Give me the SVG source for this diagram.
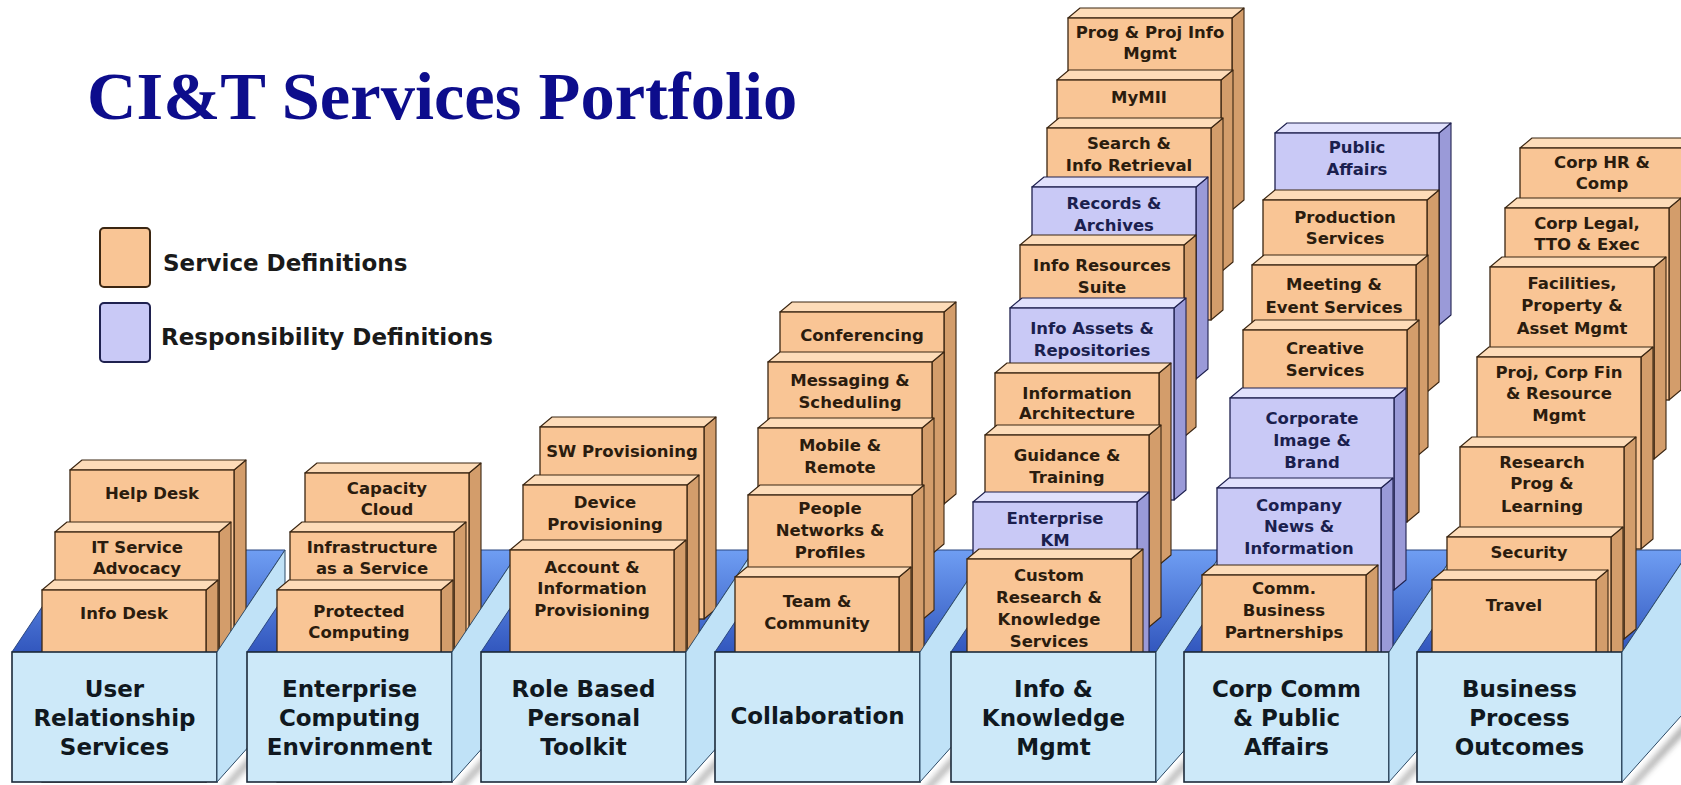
<svg xmlns="http://www.w3.org/2000/svg" xmlns:xlink="http://www.w3.org/1999/xlink" width="1681" height="785" viewBox="0 0 1681 785">
<defs>
<style>
.title{font-family:"Liberation Serif","Times New Roman",serif;font-weight:bold;font-size:68.5px;fill:#0d0d8c}
.leg{font-family:"DejaVu Sans",sans-serif;font-weight:bold;font-size:23px;fill:#1a1a1a}
.ct{font-family:"DejaVu Sans",sans-serif;font-weight:bold;font-size:16.5px;text-anchor:middle;fill:#2b1c0e}
.pt{font-family:"DejaVu Sans",sans-serif;font-weight:bold;font-size:16.5px;text-anchor:middle;fill:#1b1f4e}
.bt{font-family:"DejaVu Sans",sans-serif;font-weight:bold;font-size:23px;text-anchor:middle;fill:#101820}
.oF{fill:#f9c595;stroke:#3b2612;stroke-width:1.3}
.oT{fill:#fddcb9;stroke:#3b2612;stroke-width:1.1;stroke-linejoin:round}
.oR{fill:#d39d6b;stroke:#3b2612;stroke-width:1.1;stroke-linejoin:round}
.pF{fill:#c9c9f6;stroke:#1f214f;stroke-width:1.3}
.pT{fill:#e1e1fc;stroke:#1f214f;stroke-width:1.1;stroke-linejoin:round}
.pR{fill:#9a9ad8;stroke:#1f214f;stroke-width:1.1;stroke-linejoin:round}
.front{fill:#cde9f9;stroke:#1c2a3a;stroke-width:1.6}
.wall{fill:#c0e2f7;stroke:#2c4a66;stroke-width:1}
.inner{fill:url(#gInner);stroke:#2a4680;stroke-width:1}
.shadow{fill:#555;opacity:0.55;filter:url(#blur)}
</style>
<linearGradient id="gInner" x1="0" y1="0" x2="0" y2="1">
<stop offset="0" stop-color="#6f9ef3"/>
<stop offset="1" stop-color="#3257be"/>
</linearGradient>
<filter id="blur" x="-20%" y="-20%" width="140%" height="140%"><feGaussianBlur stdDeviation="3"/></filter>
<g id="oc"><polygon class="oR" points="164,0 176,-10 176,182 164,192"/><polygon class="oT" points="0,0 12,-10 176,-10 164,0"/><rect class="oF" width="164" height="192"/></g>
<g id="pc"><polygon class="pR" points="164,0 176,-10 176,182 164,192"/><polygon class="pT" points="0,0 12,-10 176,-10 164,0"/><rect class="pF" width="164" height="192"/></g>
</defs>
<rect width="1681" height="785" fill="#ffffff"/>

<g id="title"><text class="title" x="87" y="119">CI&amp;T Services Portfolio</text></g>

<g id="legend">
<g id="legend-service"><rect x="100" y="228" width="50" height="59" rx="4" fill="#f9c595" stroke="#3b2612" stroke-width="2"/><text class="leg" x="163" y="271">Service Definitions</text></g>
<g id="legend-responsibility"><rect x="100" y="303" width="50" height="59" rx="4" fill="#c9c9f6" stroke="#1f214f" stroke-width="2"/><text class="leg" x="161" y="345">Responsibility Definitions</text></g>
</g>

<!-- Column 1 -->
<g id="col-user-relationship">
<polygon class="inner" points="12,652 80,550 285,550 217,652"/>
<g id="n-help-desk"><use xlink:href="#oc" x="70" y="470"/><text class="ct" x="152" y="499">Help Desk</text></g>
<g id="n-it-service-advocacy"><use xlink:href="#oc" x="55" y="532"/><text class="ct" x="137" y="553">IT Service</text><text class="ct" x="137" y="574">Advocacy</text></g>
<g id="n-info-desk"><use xlink:href="#oc" x="42" y="590"/><text class="ct" x="124" y="619">Info Desk</text></g>
<g id="n-user-relationship-services"><rect class="front" x="12" y="652" width="205" height="130"/><text class="bt" x="114.5" y="697">User</text><text class="bt" x="114.5" y="726">Relationship</text><text class="bt" x="114.5" y="755">Services</text></g>
<polygon class="shadow" points="220,790 288,714 288,724 224,792"/>
<polygon class="wall" points="217,652 285,550 285,706 217,782"/>
</g>

<!-- Column 2 -->
<g id="col-enterprise-computing">
<polygon class="inner" points="247,652 315,550 520,550 452,652"/>
<g id="n-capacity-cloud"><use xlink:href="#oc" x="305" y="473"/><text class="ct" x="387" y="494">Capacity</text><text class="ct" x="387" y="515">Cloud</text></g>
<g id="n-infrastructure-service"><use xlink:href="#oc" x="290" y="532"/><text class="ct" x="372" y="553">Infrastructure</text><text class="ct" x="372" y="574">as a Service</text></g>
<g id="n-protected-computing"><use xlink:href="#oc" x="277" y="590"/><text class="ct" x="359" y="617">Protected</text><text class="ct" x="359" y="638">Computing</text></g>
<g id="n-enterprise-computing-environment"><rect class="front" x="247" y="652" width="205" height="130"/><text class="bt" x="349.5" y="697">Enterprise</text><text class="bt" x="349.5" y="726">Computing</text><text class="bt" x="349.5" y="755">Environment</text></g>
<polygon class="shadow" points="455,790 523,714 523,724 459,792"/>
<polygon class="wall" points="452,652 520,550 520,706 452,782"/>
</g>

<!-- Column 3 -->
<g id="col-role-based">
<polygon class="inner" points="481,652 549,550 754,550 686,652"/>
<g id="n-sw-provisioning"><use xlink:href="#oc" x="540" y="427"/><text class="ct" x="622" y="457">SW Provisioning</text></g>
<g id="n-device-provisioning"><use xlink:href="#oc" x="523" y="485"/><text class="ct" x="605" y="508">Device</text><text class="ct" x="605" y="530">Provisioning</text></g>
<g id="n-account-information-provisioning"><use xlink:href="#oc" x="510" y="550"/><text class="ct" x="592" y="573">Account &amp;</text><text class="ct" x="592" y="594">Information</text><text class="ct" x="592" y="616">Provisioning</text></g>
<g id="n-role-based-personal-toolkit"><rect class="front" x="481" y="652" width="205" height="130"/><text class="bt" x="583.5" y="697">Role Based</text><text class="bt" x="583.5" y="726">Personal</text><text class="bt" x="583.5" y="755">Toolkit</text></g>
<polygon class="shadow" points="689,790 757,714 757,724 693,792"/>
<polygon class="wall" points="686,652 754,550 754,706 686,782"/>
</g>

<!-- Column 4 -->
<g id="col-collaboration">
<polygon class="inner" points="715,652 783,550 988,550 920,652"/>
<g id="n-conferencing"><use xlink:href="#oc" x="780" y="312"/><text class="ct" x="862" y="341">Conferencing</text></g>
<g id="n-messaging-scheduling"><use xlink:href="#oc" x="768" y="362"/><text class="ct" x="850" y="386">Messaging &amp;</text><text class="ct" x="850" y="408">Scheduling</text></g>
<g id="n-mobile-remote"><use xlink:href="#oc" x="758" y="428"/><text class="ct" x="840" y="451">Mobile &amp;</text><text class="ct" x="840" y="473">Remote</text></g>
<g id="n-people-networks-profiles"><use xlink:href="#oc" x="748" y="495"/><text class="ct" x="830" y="514">People</text><text class="ct" x="830" y="536">Networks &amp;</text><text class="ct" x="830" y="558">Profiles</text></g>
<g id="n-team-community"><use xlink:href="#oc" x="735" y="577"/><text class="ct" x="817" y="607">Team &amp;</text><text class="ct" x="817" y="629">Community</text></g>
<g id="n-collaboration"><rect class="front" x="715" y="652" width="205" height="130"/><text class="bt" x="817.5" y="724">Collaboration</text></g>
<polygon class="shadow" points="923,790 991,714 991,724 927,792"/>
<polygon class="wall" points="920,652 988,550 988,706 920,782"/>
</g>

<!-- Column 5 -->
<g id="col-info-knowledge">
<polygon class="inner" points="951,652 1019,550 1224,550 1156,652"/>
<g id="n-prog-proj-info-mgmt"><use xlink:href="#oc" x="1068" y="18"/><text class="ct" x="1150" y="38">Prog &amp; Proj Info</text><text class="ct" x="1150" y="59">Mgmt</text></g>
<g id="n-mymii"><use xlink:href="#oc" x="1057" y="80"/><text class="ct" x="1139" y="103">MyMII</text></g>
<g id="n-search-info-retrieval"><use xlink:href="#oc" x="1047" y="128"/><text class="ct" x="1129" y="149">Search &amp;</text><text class="ct" x="1129" y="171">Info Retrieval</text></g>
<g id="n-records-archives"><use xlink:href="#pc" x="1032" y="187"/><text class="pt" x="1114" y="209">Records &amp;</text><text class="pt" x="1114" y="231">Archives</text></g>
<g id="n-info-resources-suite"><use xlink:href="#oc" x="1020" y="245"/><text class="ct" x="1102" y="271">Info Resources</text><text class="ct" x="1102" y="293">Suite</text></g>
<g id="n-info-assets-repositories"><use xlink:href="#pc" x="1010" y="308"/><text class="pt" x="1092" y="334">Info Assets &amp;</text><text class="pt" x="1092" y="356">Repositories</text></g>
<g id="n-information-architecture"><use xlink:href="#oc" x="995" y="373"/><text class="ct" x="1077" y="399">Information</text><text class="ct" x="1077" y="419">Architecture</text></g>
<g id="n-guidance-training"><use xlink:href="#oc" x="985" y="435"/><text class="ct" x="1067" y="461">Guidance &amp;</text><text class="ct" x="1067" y="483">Training</text></g>
<g id="n-enterprise-km"><use xlink:href="#pc" x="973" y="502"/><text class="pt" x="1055" y="524">Enterprise</text><text class="pt" x="1055" y="546">KM</text></g>
<g id="n-custom-research"><use xlink:href="#oc" x="967" y="559"/><text class="ct" x="1049" y="581">Custom</text><text class="ct" x="1049" y="603">Research &amp;</text><text class="ct" x="1049" y="625">Knowledge</text><text class="ct" x="1049" y="647">Services</text></g>
<g id="n-info-knowledge-mgmt"><rect class="front" x="951" y="652" width="205" height="130"/><text class="bt" x="1053.5" y="697">Info &amp;</text><text class="bt" x="1053.5" y="726">Knowledge</text><text class="bt" x="1053.5" y="755">Mgmt</text></g>
<polygon class="shadow" points="1159,790 1227,714 1227,724 1163,792"/>
<polygon class="wall" points="1156,652 1224,550 1224,706 1156,782"/>
</g>

<!-- Column 6 -->
<g id="col-corp-comm">
<polygon class="inner" points="1184,652 1252,550 1457,550 1389,652"/>
<g id="n-public-affairs"><use xlink:href="#pc" x="1275" y="133"/><text class="pt" x="1357" y="153">Public</text><text class="pt" x="1357" y="175">Affairs</text></g>
<g id="n-production-services"><use xlink:href="#oc" x="1263" y="200"/><text class="ct" x="1345" y="223">Production</text><text class="ct" x="1345" y="244">Services</text></g>
<g id="n-meeting-event-services"><use xlink:href="#oc" x="1252" y="265"/><text class="ct" x="1334" y="290">Meeting &amp;</text><text class="ct" x="1334" y="313">Event Services</text></g>
<g id="n-creative-services"><use xlink:href="#oc" x="1243" y="330"/><text class="ct" x="1325" y="354">Creative</text><text class="ct" x="1325" y="376">Services</text></g>
<g id="n-corporate-image-brand"><use xlink:href="#pc" x="1230" y="398"/><text class="pt" x="1312" y="424">Corporate</text><text class="pt" x="1312" y="446">Image &amp;</text><text class="pt" x="1312" y="468">Brand</text></g>
<g id="n-company-news-information"><use xlink:href="#pc" x="1217" y="488"/><text class="pt" x="1299" y="511">Company</text><text class="pt" x="1299" y="532">News &amp;</text><text class="pt" x="1299" y="554">Information</text></g>
<g id="n-comm-business-partnerships"><use xlink:href="#oc" x="1202" y="575"/><text class="ct" x="1284" y="594">Comm.</text><text class="ct" x="1284" y="616">Business</text><text class="ct" x="1284" y="638">Partnerships</text></g>
<g id="n-corp-comm-public-affairs"><rect class="front" x="1184" y="652" width="205" height="130"/><text class="bt" x="1286.5" y="697">Corp Comm</text><text class="bt" x="1286.5" y="726">&amp; Public</text><text class="bt" x="1286.5" y="755">Affairs</text></g>
<polygon class="shadow" points="1392,790 1460,714 1460,724 1396,792"/>
<polygon class="wall" points="1389,652 1457,550 1457,706 1389,782"/>
</g>

<!-- Column 7 -->
<g id="col-business-process">
<polygon class="inner" points="1417,652 1485,550 1690,550 1622,652"/>
<g id="n-corp-hr-comp"><use xlink:href="#oc" x="1520" y="148"/><text class="ct" x="1602" y="168">Corp HR &amp;</text><text class="ct" x="1602" y="189">Comp</text></g>
<g id="n-corp-legal-tto-exec"><use xlink:href="#oc" x="1505" y="208"/><text class="ct" x="1587" y="229">Corp Legal,</text><text class="ct" x="1587" y="250">TTO &amp; Exec</text></g>
<g id="n-facilities-property-asset"><use xlink:href="#oc" x="1490" y="267"/><text class="ct" x="1572" y="289">Facilities,</text><text class="ct" x="1572" y="311">Property &amp;</text><text class="ct" x="1572" y="334">Asset Mgmt</text></g>
<g id="n-proj-corp-fin-resource"><use xlink:href="#oc" x="1477" y="357"/><text class="ct" x="1559" y="378">Proj, Corp Fin</text><text class="ct" x="1559" y="399">&amp; Resource</text><text class="ct" x="1559" y="421">Mgmt</text></g>
<g id="n-research-prog-learning"><use xlink:href="#oc" x="1460" y="447"/><text class="ct" x="1542" y="468">Research</text><text class="ct" x="1542" y="489">Prog &amp;</text><text class="ct" x="1542" y="512">Learning</text></g>
<g id="n-security"><use xlink:href="#oc" x="1447" y="537"/><text class="ct" x="1529" y="558">Security</text></g>
<g id="n-travel"><use xlink:href="#oc" x="1432" y="580"/><text class="ct" x="1514" y="611">Travel</text></g>
<g id="n-business-process-outcomes"><rect class="front" x="1417" y="652" width="205" height="130"/><text class="bt" x="1519.5" y="697">Business</text><text class="bt" x="1519.5" y="726">Process</text><text class="bt" x="1519.5" y="755">Outcomes</text></g>
<polygon class="shadow" points="1625,790 1693,714 1693,724 1629,792"/>
<polygon class="wall" points="1622,652 1690,550 1690,706 1622,782"/>
</g>

<g id="connectors"></g>
</svg>
